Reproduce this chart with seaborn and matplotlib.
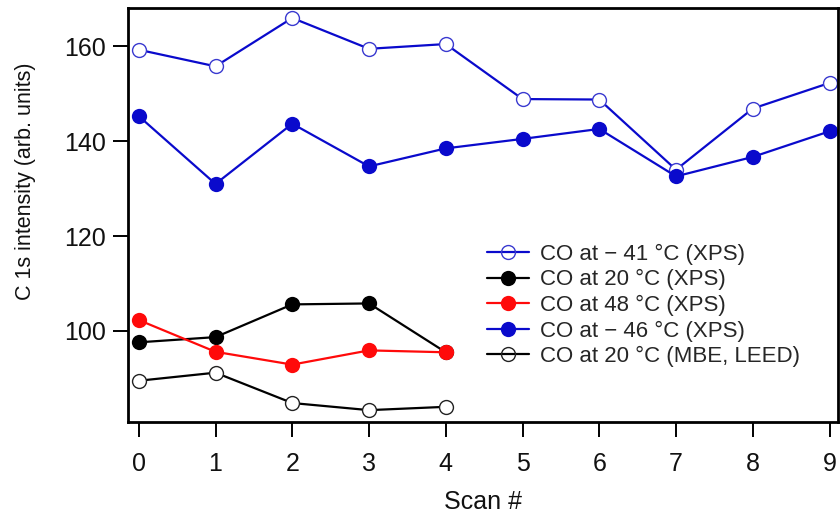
import matplotlib
matplotlib.use("Agg")
import matplotlib.pyplot as plt
import seaborn as sns
import pandas as pd

scan = [0, 1, 2, 3, 4, 5, 6, 7, 8, 9]
scan_short = [0, 1, 2, 3, 4]

co_m41_xps = [159.3, 155.8, 166.0, 159.5, 160.5, 148.9, 148.8, 134.0, 146.9, 152.3]
co_20_xps = [97.6, 98.7, 105.6, 105.8, 95.5]
co_48_xps = [102.3, 95.6, 92.9, 95.9, 95.5]
co_m46_xps = [145.3, 131.0, 143.7, 134.7, 138.5, 140.5, 142.6, 132.6, 136.7, 142.1]
co_20_mbe = [89.5, 91.2, 84.8, 83.3, 84.0]

labels = [
    "CO at \u2212 41 \u00b0C (XPS)",
    "CO at 20 \u00b0C (XPS)",
    "CO at 48 \u00b0C (XPS)",
    "CO at \u2212 46 \u00b0C (XPS)",
    "CO at 20 \u00b0C (MBE, LEED)",
]

sns.set_theme(style="white")
plt.rcParams["font.family"] = ["Liberation Sans", "DejaVu Sans"]

fig = plt.figure(figsize=(8.4, 5.14), dpi=100)
ax = fig.add_axes([0.1524, 0.179, 0.8452, 0.8054])

blue = "#0a0acc"
red = "#ff0a0a"
black = "#000000"

series = [
    (scan, co_m41_xps, labels[0], blue, "white", "#3a3ad0", 1.0),
    (scan_short, co_20_xps, labels[1], black, black, black, 0.0),
    (scan_short, co_48_xps, labels[2], red, red, red, 0.0),
    (scan, co_m46_xps, labels[3], blue, blue, blue, 0.0),
    (scan_short, co_20_mbe, labels[4], black, "white", "#222222", 1.0),
]

for xs, ys, lab, col, mfc, mec, mew in series:
    df = pd.DataFrame({"scan": xs, "val": ys})
    ms = 10 if mew > 0 else 11
    sns.lineplot(data=df, x="scan", y="val", ax=ax, color=col, lw=1.6,
                 marker="o", markersize=ms, markerfacecolor=mfc,
                 markeredgecolor=mec, markeredgewidth=mew, label=lab)

ax.set_xlim(-0.14, 9.11)
ax.set_ylim(80.8, 168.1)
ax.set_xticks(scan)
ax.set_yticks([100, 120, 140, 160])

for s in ax.spines.values():
    s.set_color("black")
    s.set_linewidth(2.0)

ax.tick_params(axis="both", direction="out", length=11, width=1.4,
               color="black", labelsize=18, labelcolor="#111111",
               bottom=True, left=True)
ax.tick_params(axis="x", pad=10.5)
ax.tick_params(axis="y", pad=5)

ax.set_xlabel("Scan #", fontsize=18, color="#111111", labelpad=10)
ax.set_ylabel("C 1s intensity (arb. units)", fontsize=15.5, color="#111111")
ax.yaxis.set_label_coords(-0.13, 0.582)

leg = ax.legend(loc="upper left", bbox_to_anchor=(0.493, 0.452), frameon=False,
                fontsize=16, handlelength=1.9, handletextpad=0.5,
                labelspacing=0.2, borderaxespad=0)
for h in leg.legend_handles:
    if h.get_markerfacecolor() == "white":
        h.set_markerfacecolor("none")

fig.savefig("out.png", dpi=100)
